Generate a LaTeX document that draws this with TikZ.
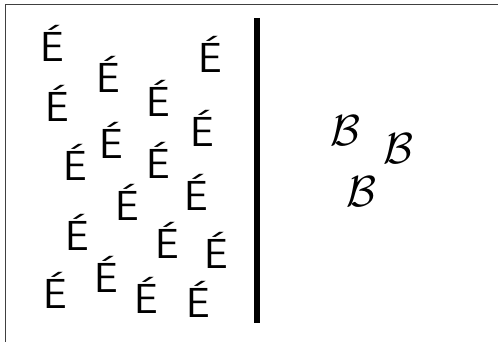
\documentclass[tikz,border=0pt]{standalone}
\usepackage{tikz}
\usetikzlibrary{positioning}

\begin{document}
\begin{tikzpicture}[
  x=1pt, y=-1pt,
  eletter/.style={font=\sffamily\fontsize{42}{42}\selectfont, inner sep=0pt, anchor=base},
  bletter/.style={font=\Huge, inner sep=0pt, anchor=base},
  frameline/.style={black!75, line width=1pt},
  divider/.style={black, line width=5.5pt},
]
\useasboundingbox (0,0) rectangle (499,342);
% ---- frame (top and left edge only) ----
\coordinate (fleft) at (5,342);
\coordinate (fcorner) at (5,5);
\coordinate (fright) at (498,5);
\draw[frameline] (fleft) -- (fcorner) -- (fright);
% ---- left side: many E's ----
\foreach \x/\y [count=\i] in {52/62, 210/73, 108/93, 57/122, 158/117, 111/159, 202/147,
    75/181, 158/179, 127/221, 196/211, 77/251, 167/259, 216/269, 106/293,
    55/309, 146/314, 198/318}
  \node[eletter] (e\i) at (\x,\y) {É};
% ---- divider ----
\coordinate (divtop) at (257,18);
\coordinate (divbot) at (257,323);
\draw[divider] (divtop) -- (divbot);
% ---- right side: three B's ----
\node[bletter] (b1) at (345,146) {\scalebox{1.75}{$\mathcal{B}$}};
\node[bletter] (b2) at (398,164) {\scalebox{1.75}{$\mathcal{B}$}};
\node[bletter] (b3) at (361,207) {\scalebox{1.75}{$\mathcal{B}$}};
\end{tikzpicture}
\end{document}
